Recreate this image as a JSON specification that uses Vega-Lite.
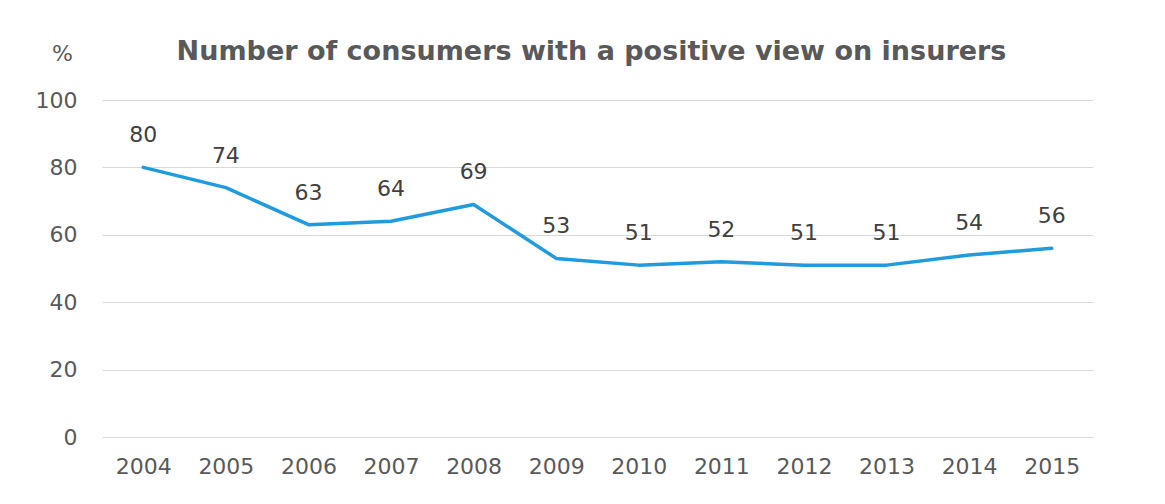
{
  "$schema": "https://vega.github.io/schema/vega-lite/v6.json",
  "width": 991,
  "height": 337,
  "autosize": {"type": "none"},
  "padding": {"left": 102, "top": 100, "right": 72, "bottom": 67},
  "background": "white",
  "title": {
    "text": "Number of consumers with a positive view on insurers",
    "font": "DejaVu Sans",
    "fontSize": 27,
    "fontWeight": "bold",
    "color": "#595959",
    "anchor": "middle",
    "dx": -6,
    "offset": -24
  },
  "config": {
    "view": {"stroke": null},
    "font": "DejaVu Sans"
  },
  "data": {
    "values": [
      {"year": "2004", "value": 80},
      {"year": "2005", "value": 74},
      {"year": "2006", "value": 63},
      {"year": "2007", "value": 64},
      {"year": "2008", "value": 69},
      {"year": "2009", "value": 53},
      {"year": "2010", "value": 51},
      {"year": "2011", "value": 52},
      {"year": "2012", "value": 51},
      {"year": "2013", "value": 51},
      {"year": "2014", "value": 54},
      {"year": "2015", "value": 56}
    ]
  },
  "encoding": {
    "x": {
      "field": "year",
      "type": "ordinal",
      "scale": {"type": "point", "padding": 0.5},
      "axis": {
        "title": null,
        "labelAngle": 0,
        "labelFontSize": 22,
        "labelColor": "#595959",
        "labelPadding": 19,
        "ticks": false,
        "domain": false,
        "grid": false
      }
    },
    "y": {
      "field": "value",
      "type": "quantitative",
      "scale": {"domain": [0, 100], "nice": false},
      "axis": {
        "values": [0, 20, 40, 60, 80, 100],
        "title": "%",
        "titleAngle": 0,
        "titleAlign": "center",
        "titleBaseline": "middle",
        "titleFontSize": 22,
        "titleFontWeight": "normal",
        "titleColor": "#595959",
        "titleX": -40,
        "titleY": -47,
        "labelFontSize": 22,
        "labelColor": "#595959",
        "labelPadding": 25,
        "ticks": false,
        "domain": false,
        "grid": true,
        "gridColor": "#d9d9d9",
        "gridWidth": 1
      }
    }
  },
  "layer": [
    {
      "mark": {"type": "line", "color": "#1f9bde", "strokeWidth": 3.5, "strokeCap": "round", "strokeJoin": "round"}
    },
    {
      "mark": {"type": "text", "fontSize": 22, "color": "#404040", "dy": -32, "baseline": "middle"},
      "encoding": {"text": {"field": "value", "type": "quantitative"}}
    }
  ]
}
